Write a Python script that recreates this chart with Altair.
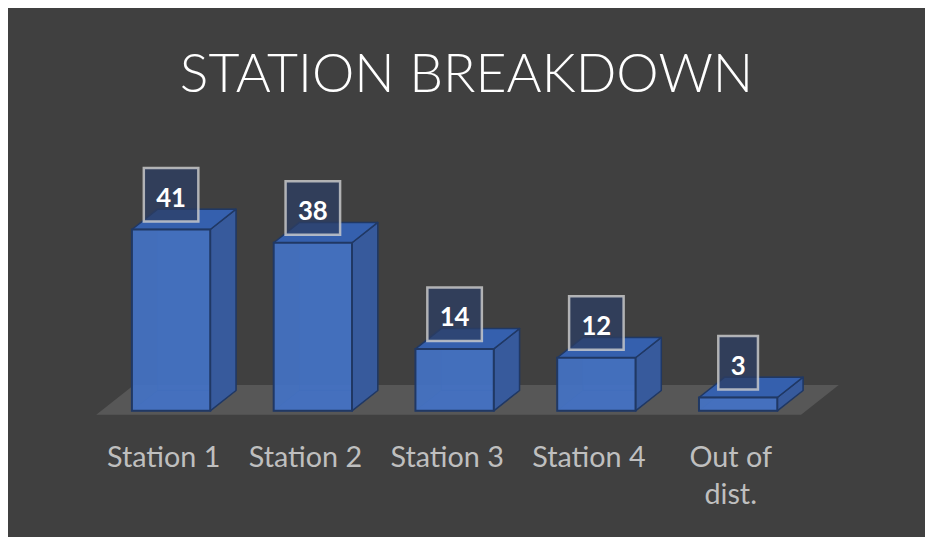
import json
import textwrap

import altair as alt
import pandas as pd

# ---------------- data ----------------
categories = ["Station 1", "Station 2", "Station 3", "Station 4", "Out of dist."]
counts = [41, 38, 14, 12, 3]
chart_title = "STATION BREAKDOWN"

# ---------------- layout (pixels) ----------------
W_TOTAL, H_TOTAL = 925, 529
PAD_TOP, PLOT_H = 150, 254
PAD_BOTTOM = H_TOTAL - PAD_TOP - PLOT_H
SLOT = 143.0            # px between category centres
FIRST = 164.5           # px from left edge to first category centre
PX_PER_UNIT = 4.46      # px per count unit

HALF_W = 39.5 / SLOT
DEPTH_X = 26.0 / SLOT
DEPTH_Y = 20.5 / PX_PER_UNIT

x_domain = [-FIRST / SLOT, (W_TOTAL - FIRST) / SLOT]
y_domain = [0, PLOT_H / PX_PER_UNIT]

# colours
BG = "#404040"
FLOOR = "#575757"
FRONT = "#4472C4"
SIDE = "#375a9c"
TOP = "#3560ae"
EDGE = "#203864"

# ---------------- derived tables ----------------
front_rows, side_rows, top_rows, back_rows, bottom_rows, box_rows = [], [], [], [], [], []
for i, (cat, v) in enumerate(zip(categories, counts)):
    l, r = i - HALF_W, i + HALF_W
    front_rows.append(dict(cat=cat, x0=l, x1=r, y0=0, y1=v))
    back_rows.append(dict(cat=cat, x0=l + DEPTH_X, x1=r + DEPTH_X, y0=DEPTH_Y, y1=v + DEPTH_Y))
    side_rows += [dict(cat=cat, x=r, lo=0, hi=v),
                  dict(cat=cat, x=r + DEPTH_X, lo=DEPTH_Y, hi=v + DEPTH_Y)]
    top_rows += [dict(cat=cat, x=l, lo=v, hi=v),
                 dict(cat=cat, x=l + DEPTH_X, lo=v, hi=v + DEPTH_Y),
                 dict(cat=cat, x=r, lo=v, hi=v + DEPTH_Y),
                 dict(cat=cat, x=r + DEPTH_X, lo=v + DEPTH_Y, hi=v + DEPTH_Y)]
    bottom_rows += [dict(cat=cat, x=l, lo=0, hi=0),
                    dict(cat=cat, x=l + DEPTH_X, lo=0, hi=DEPTH_Y),
                    dict(cat=cat, x=r, lo=0, hi=DEPTH_Y),
                    dict(cat=cat, x=r + DEPTH_X, lo=DEPTH_Y, hi=DEPTH_Y)]
    half = (12.5 + 7.5 * len(str(v))) / SLOT
    box_rows.append(dict(cat=cat, label=str(v), x=i, x0=i - half, x1=i + half,
                         y0=v + 8 / PX_PER_UNIT, y1=v + 62 / PX_PER_UNIT,
                         ty=v + 31 / PX_PER_UNIT))

n = len(categories)
fl = -75.5 / SLOT
fr = (n - 1) + 63.5 / SLOT
fdx = 38.0 / SLOT
yf = -4.0 / PX_PER_UNIT
yb = 26.0 / PX_PER_UNIT
floor_rows = [dict(g="floor", x=fl, lo=yf, hi=yf),
              dict(g="floor", x=fl + fdx, lo=yf, hi=yb),
              dict(g="floor", x=fr, lo=yf, hi=yb),
              dict(g="floor", x=fr + fdx, lo=yb, hi=yb)]

front_df = pd.DataFrame(front_rows)
back_df = pd.DataFrame(back_rows)
side_df = pd.DataFrame(side_rows)
top_df = pd.DataFrame(top_rows)
bottom_df = pd.DataFrame(bottom_rows)
box_df = pd.DataFrame(box_rows)
floor_df = pd.DataFrame(floor_rows)

# ---------------- scales / axis ----------------
xs = alt.Scale(domain=x_domain, nice=False, zero=False)
ys = alt.Scale(domain=y_domain, nice=False, zero=False)

wrapped = [textwrap.wrap(c, 9) for c in categories]
label_expr = json.dumps(wrapped) + "[datum.value]"

x_axis = alt.Axis(values=list(range(n)), labelExpr=label_expr, domain=False, ticks=False,
                  tickSize=0, grid=False, labelPadding=33, labelFontSize=29,
                  labelColor="#bfbfbf", labelFont="Lato", labelLineHeight=38,
                  labelOffset=-8, labelOverlap=False, labelFlush=False, labelAngle=0,
                  title=None)


def X(f):
    return alt.X(f, type="quantitative", scale=xs, axis=x_axis, title=None)


def Y(f):
    return alt.Y(f, type="quantitative", scale=ys, axis=None, title=None, stack=None)


floor = alt.Chart(floor_df).mark_area(color=FLOOR, opacity=1).encode(
    x=X("x"), y=Y("lo"), y2="hi", detail="g:N")

bottom = alt.Chart(bottom_df).mark_area(fill=FRONT, fillOpacity=0.25, stroke=EDGE,
                                        strokeWidth=1, strokeOpacity=0.5).encode(
    x=X("x"), y=Y("lo"), y2="hi", detail="cat:N")

back = alt.Chart(back_df).mark_rect(fill=FRONT, fillOpacity=0.2, stroke=EDGE,
                                    strokeWidth=1, strokeOpacity=0.6).encode(
    x=X("x0"), x2="x1", y=Y("y0"), y2="y1")

side = alt.Chart(side_df).mark_area(fill=SIDE, stroke=EDGE, strokeWidth=1.5,
                                    strokeJoin="round").encode(
    x=X("x"), y=Y("lo"), y2="hi", detail="cat:N")

top = alt.Chart(top_df).mark_area(fill=TOP, stroke=EDGE, strokeWidth=1.5,
                                  strokeJoin="round").encode(
    x=X("x"), y=Y("lo"), y2="hi", detail="cat:N")

front = alt.Chart(front_df).mark_rect(fill=FRONT, fillOpacity=0.93, stroke=EDGE,
                                      strokeWidth=2).encode(
    x=X("x0"), x2="x1", y=Y("y0"), y2="y1")

boxes = alt.Chart(box_df).mark_rect(fill="#2c3d63", fillOpacity=0.75, stroke="#d0d0d0",
                                    strokeOpacity=0.8, strokeWidth=2.5).encode(
    x=X("x0"), x2="x1", y=Y("y0"), y2="y1")

labels = alt.Chart(box_df).mark_text(font="Lato", fontSize=26, fontWeight="bold",
                                     color="#ffffff", baseline="middle",
                                     align="center").encode(
    x=X("x"), y=Y("ty"), text="label:N")

chart = alt.layer(floor, bottom, back, side, top, front, boxes, labels).properties(
    width=W_TOTAL,
    height=PLOT_H,
    padding={"left": 0, "top": PAD_TOP, "right": 0, "bottom": PAD_BOTTOM},
    autosize=alt.AutoSizeParams(type="none"),
    background=BG,
    title=alt.TitleParams(text=chart_title, font="Lato", fontSize=54, fontWeight=300,
                          color="#ffffff", anchor="middle", frame="group",
                          baseline="alphabetic", offset=14),
).configure(font="Lato").configure_view(strokeWidth=0, stroke="transparent")

chart.save("out.html", embed_options={"renderer": "svg", "actions": False})
